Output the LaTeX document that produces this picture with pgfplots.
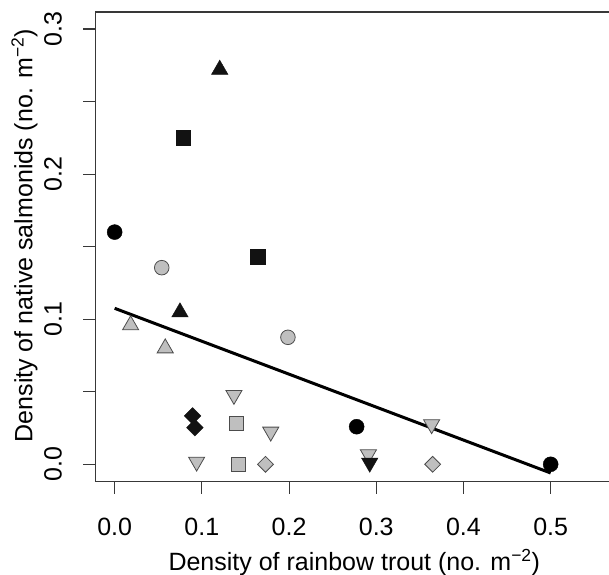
\documentclass[border=0pt]{standalone}
\usepackage{fontspec}
\setmainfont{Liberation Sans}
\usepackage{pgfplots}
\pgfplotsset{compat=1.18}
\definecolor{gfill}{gray}{0.75}
\definecolor{gedge}{gray}{0.3}
\definecolor{axc}{gray}{0.22}
\begin{document}
\fontsize{25bp}{30bp}\selectfont
\begin{tikzpicture}
\begin{axis}[
  name=ax, at={(0,0)}, anchor=south west,
  scale only axis, width=513.7bp, height=469.7bp,
  xmin=-0.0222, xmax=0.5669, ymin=-0.012, ymax=0.3117,
  axis x line*=bottom, axis y line*=left,
  axis line style={-, draw=axc, line width=1.1bp},
  tick style={draw=axc, line width=1.1bp},
  tick align=outside, major tick length=12bp,
  xtick={0,0.1,0.2,0.3,0.4,0.5},
  xticklabels={0.0,0.1,0.2,0.3,0.4,0.5},
  ytick={0,0.05,0.1,0.15,0.2,0.25,0.3},
  yticklabels={0.0,,0.1,,0.2,,0.3},
  /pgf/number format/assume math mode=true,
  xticklabel style={anchor=center, inner sep=0pt, yshift=-32.8bp},
  yticklabel style={xshift=-30.3bp, rotate=90, anchor=center, inner sep=0pt},
  clip=false,
]
% regression line
\addplot[black, line width=3bp] coordinates {(0,0.1075) (0.5,-0.006)};
% black circles
\addplot[only marks, mark=*, mark size=7.5bp, mark options={fill=black, draw=black}]
  coordinates {(0,0.160) (0.2775,0.0259) (0.5,0.0)};
% gray circles
\addplot[only marks, mark=*, mark size=7.3bp, mark options={fill=gfill, draw=gedge, line width=0.8bp}]
  coordinates {(0.054,0.1355) (0.1987,0.0875)};
% black triangles
\addplot[only marks, mark=triangle*, mark size=9.5bp, mark options={fill=black!93, draw=black!93}]
  coordinates {(0.1205,0.272) (0.0749,0.1048)};
% gray triangles
\addplot[only marks, mark=triangle*, mark size=9.3bp, mark options={fill=gfill, draw=gedge, line width=0.8bp}]
  coordinates {(0.0183,0.0959) (0.058,0.080)};
% gray down triangles
\addplot[only marks, mark=triangle*, mark size=9.3bp, mark options={rotate=180, fill=gfill, draw=gedge, line width=0.8bp}]
  coordinates {(0.1368,0.0477) (0.179,0.0224) (0.094,0.0017) (0.3635,0.0275) (0.291,0.0068)};
% black down triangle
\addplot[only marks, mark=triangle*, mark size=9.5bp, mark options={rotate=180, fill=black!93, draw=black!93}]
  coordinates {(0.2925,0.001)};
% black squares
\addplot[only marks, mark=square*, mark size=7.2bp, mark options={fill=black!93, draw=black!93}]
  coordinates {(0.0783,0.225) (0.164,0.143)};
% gray squares
\addplot[only marks, mark=square*, mark size=6.9bp, mark options={fill=gfill, draw=gedge, line width=0.8bp}]
  coordinates {(0.140,0.0283) (0.1418,0.0)};
% black diamonds
\addplot[only marks, mark=square*, mark size=5.9bp, mark options={rotate=45, fill=black!93, draw=black!93}]
  coordinates {(0.0894,0.0333) (0.092,0.0252)};
% gray diamonds
\addplot[only marks, mark=square*, mark size=5.6bp, mark options={rotate=45, fill=gfill, draw=gedge, line width=0.8bp}]
  coordinates {(0.173,0.0) (0.3647,0.0)};
\draw[axc, line width=1.1bp] (rel axis cs:0,1) -- (rel axis cs:1,1);
\end{axis}
\node[anchor=base] at ([xshift=259bp, yshift=-88.3bp]ax.south west)
  {Density of rainbow trout (no. m\textsuperscript{\char"2212 2})};
\node[rotate=90, anchor=base] at ([xshift=-62.8bp, yshift=246bp]ax.south west)
  {Density of native salmonids (no. m\textsuperscript{\char"2212 2})};
\pgfresetboundingbox
\path[use as bounding box] ([xshift=-95.3bp, yshift=-93.3bp]ax.south west) rectangle ([yshift=12bp]ax.north east);
\end{tikzpicture}
\end{document}
